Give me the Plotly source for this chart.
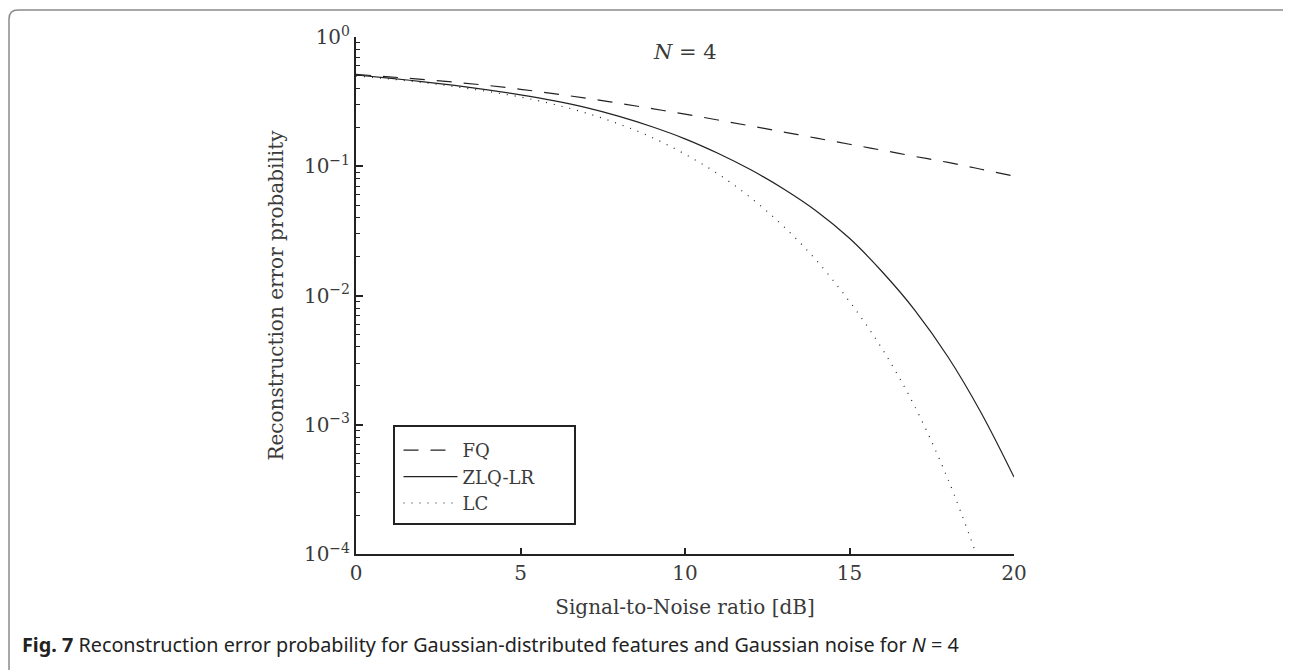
import plotly.graph_objects as go

snr = list(range(0, 21))
fq = [0.514, 0.492, 0.470, 0.447, 0.422, 0.394, 0.365, 0.336, 0.307, 0.279,
      0.253, 0.228, 0.205, 0.184, 0.165, 0.148, 0.133, 0.119, 0.107, 0.0948, 0.0839]
zlq = [0.508, 0.481, 0.452, 0.422, 0.390, 0.357, 0.322, 0.284, 0.243, 0.202,
       0.163, 0.126, 0.0938, 0.0667, 0.0449, 0.0277, 0.0152, 0.00762, 0.00333, 0.00124, 0.000394]
snr_lc = list(range(0, 19)) + [18.85]
lc = [0.501, 0.474, 0.445, 0.413, 0.379, 0.343, 0.302, 0.258, 0.212, 0.167,
      0.124, 0.0873, 0.0570, 0.0342, 0.0186, 0.00899, 0.00384, 0.00136, 0.000375, 0.0001]

x_ticks = [0, 5, 10, 15, 20]
y_ticks = [1e-4, 1e-3, 1e-2, 1e-1, 1]
y_ticktext = ["10<sup>\u22124</sup>", "10<sup>\u22123</sup>", "10<sup>\u22122</sup>",
              "10<sup>\u22121</sup>", "10<sup>0</sup>"]
y_minor = [m * d for d in (1e-4, 1e-3, 1e-2, 1e-1) for m in range(2, 10)]

SERIF = "DejaVu Serif, Liberation Serif, serif"
INK = "#222222"
TXT = "#3a3a3a"

fig = go.Figure()
fig.add_trace(go.Scatter(x=snr, y=fq, mode="lines", name="FQ",
                         line=dict(color=INK, width=1.2, dash="15px,12px", shape="spline")))
fig.add_trace(go.Scatter(x=snr, y=zlq, mode="lines", name="ZLQ-LR",
                         line=dict(color=INK, width=1.2, shape="spline")))
fig.add_trace(go.Scatter(x=snr_lc, y=lc, mode="lines", name="LC",
                         line=dict(color=INK, width=1.2, dash="1px,7px", shape="spline")))

# page is offset by an 8px body margin
W, H = 1291, 670
PX0, PX1, PY0, PY1 = 356, 1014, 37, 554      # plot area in page pixels
L, T = PX0 - 8, PY0 - 8
R, B = W - (PX1 - 8), H - (PY1 - 8)
pw, ph = PX1 - PX0, PY1 - PY0

def px(x):
    return (x - PX0) / pw

def py(y):
    return (PY1 - y) / ph

# rounded figure frame
x0, x1, y0, y1, r = 9, 1290, 10, 720, 9
path = (f"M {px(x0)},{py(y1)} L {px(x0)},{py(y0 + r)} "
        f"Q {px(x0)},{py(y0)} {px(x0 + r)},{py(y0)} "
        f"L {px(x1)},{py(y0)} L {px(x1)},{py(y1)}")
fig.add_shape(type="path", path=path, xref="paper", yref="paper",
              line=dict(color="#8a8a8a", width=1.5))

# legend box
fig.add_shape(type="rect", xref="paper", yref="paper",
              x0=px(394), x1=px(575), y0=py(524), y1=py(426),
              line=dict(color=INK, width=2), fillcolor="white", layer="above")

fig.add_annotation(x=10, y=py(52), xref="x", yref="paper", text="<i>N</i> = 4",
                   showarrow=False, font=dict(family=SERIF, size=21, color=TXT),
                   yanchor="middle", xanchor="center")
fig.add_annotation(x=px(20), y=py(644), xref="paper", yref="paper",
                   text="<b>Fig. 7</b> Reconstruction error probability for Gaussian-distributed features and Gaussian noise for <i>N</i> = 4",
                   showarrow=False, xanchor="left", yanchor="middle",
                   font=dict(family="Noto Sans, Open Sans, sans-serif", size=19.8, color="#222"))

fig.update_layout(
    width=W, height=H,
    margin=dict(l=L, r=R, t=T, b=B, pad=0),
    paper_bgcolor="white", plot_bgcolor="white",
    font=dict(family=SERIF, size=20, color=TXT),
    showlegend=True,
    legend=dict(x=px(398.5), y=py(432), xanchor="left", yanchor="top",
                bgcolor="rgba(0,0,0,0)", borderwidth=0,
                font=dict(family=SERIF, size=18, color=TXT),
                itemwidth=54, tracegroupgap=0),
    xaxis=dict(range=[0, 20], tickvals=x_ticks, ticks="inside", ticklen=6,
               tickwidth=1.5, tickcolor=INK, showline=True, linecolor=INK, linewidth=2,
               showgrid=False, zeroline=False, mirror=False,
               tickfont=dict(family=SERIF, size=20, color=TXT),
               title=dict(text="Signal-to-Noise ratio [dB]", standoff=16,
                          font=dict(family=SERIF, size=20, color=TXT))),
    yaxis=dict(type="log", range=[-4, 0], tickvals=y_ticks, ticktext=y_ticktext,
               ticks="inside", ticklen=7, tickwidth=1.5, tickcolor=INK,
               showline=True, linecolor=INK, linewidth=2, showgrid=False,
               zeroline=False, mirror=False,
               tickfont=dict(family=SERIF, size=20, color=TXT),
               minor=dict(tickmode="array", tickvals=y_minor, ticks="inside", ticklen=4,
                          tickwidth=1.2, tickcolor=INK, showgrid=False),
               title=dict(text="Reconstruction error probability", standoff=15,
                          font=dict(family=SERIF, size=20, color=TXT))),
)

fig.write_html("out.html")
